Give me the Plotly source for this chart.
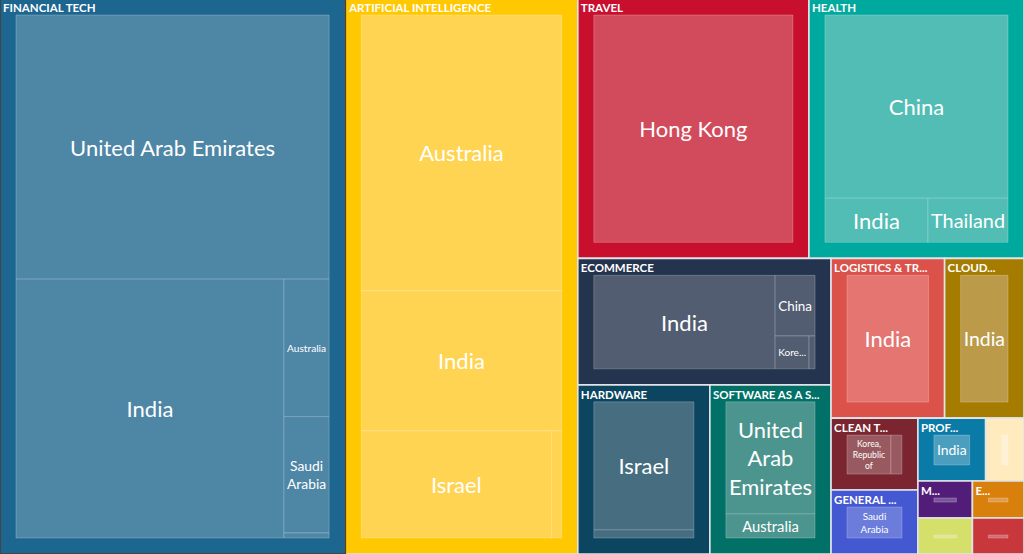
import plotly.graph_objects as go

sectors = ["FINANCIAL TECH", "ARTIFICIAL INTELLIGENCE", "TRAVEL", "HEALTH", "ECOMMERCE",
           "HARDWARE", "SOFTWARE AS A SERVICE", "LOGISTICS & TRANSPORTATION", "CLOUD COMPUTING",
           "CLEAN TECH", "GENERAL CONSUMER", "PROFESSIONAL SERVICES", "INTERNET",
           "MEDIA", "EDUCATION", "GAMING", "SECURITY"]
# header text as it shows in the boxes (truncated where it does not fit)
sector_header = ["FINANCIAL TECH", "ARTIFICIAL INTELLIGENCE", "TRAVEL", "HEALTH", "ECOMMERCE",
                 "HARDWARE", "SOFTWARE AS A S...", "LOGISTICS & TR...", "CLOUD...",
                 "CLEAN T...", "GENERAL ...", "PROF...", "",
                 "M...", "E...", "", ""]
sector_colors = ["#1d6690", "#ffc800", "#c8102e", "#00a99d", "#25344e",
                 "#0c4560", "#017167", "#da5249", "#a67c00",
                 "#7b2530", "#4458d2", "#0a7aa6", "#ffebbd",
                 "#511d78", "#d8800b", "#d4e06a", "#c8373c"]
leaf_colors = ["#4e86a6", "#ffd452", "#d24b5c", "#52bdb5", "#525d72",
               "#466e80", "#4c958e", "#e47570", "#bb9a4a",
               "#985a60", "#6b7cdb", "#4c9ebe", "#fff1d4",
               "#7a559a", "#e29d4c", "#dde794", "#d56a6e"]

leaf_sector = ["FINANCIAL TECH"] * 5 + ["ARTIFICIAL INTELLIGENCE"] * 4 + ["TRAVEL"] + ["HEALTH"] * 3 \
    + ["ECOMMERCE"] * 4 + ["HARDWARE"] * 2 + ["SOFTWARE AS A SERVICE"] * 2 \
    + ["LOGISTICS & TRANSPORTATION", "CLOUD COMPUTING"] + ["CLEAN TECH"] * 2 \
    + ["GENERAL CONSUMER", "PROFESSIONAL SERVICES", "INTERNET", "MEDIA", "EDUCATION", "GAMING", "SECURITY"]
leaf_country = ["United Arab Emirates", "India", "Australia", "Saudi Arabia", "Singapore",
                "Australia", "India", "Israel", "Singapore",
                "Hong Kong",
                "China", "India", "Thailand",
                "India", "China", "Korea, Republic of", "Japan",
                "Israel", "India",
                "United Arab Emirates", "Australia",
                "India", "India",
                "Korea, Republic of", "India",
                "Saudi Arabia", "India", "India", "India", "India", "India", "Israel"]
# label text as it shows in the boxes (wrapped / truncated, blank where too small)
leaf_text = ["United Arab Emirates", "India", "Australia", "Saudi<br>Arabia", "",
             "Australia", "India", "Israel", "",
             "Hong Kong",
             "China", "India", "Thailand",
             "India", "China", "Kore...", "",
             "Israel", "",
             "United<br>Arab<br>Emirates", "Australia",
             "India", "India",
             "Korea,<br>Republic<br>of", "",
             "Saudi<br>Arabia", "India", "", "", "", "", ""]
leaf_value = [96.0, 80.5, 7.2, 6.1, 0.26,
              67.6, 34.3, 24.9, 1.34,
              59.6,
              44.7, 6.06, 4.70,
              26.0, 3.71, 1.71, 0.30,
              20.8, 1.33,
              16.7, 3.6,
              17.97, 12.56,
              4.95, 1.24,
              5.5, 4.22, 2.39, 2.0, 1.89, 1.94, 1.84]

FONT = "Source Sans Pro, Lato, sans-serif"
pad = dict(t=17, l=16, r=16, b=16)
lift = 2  # sectors start slightly above the page top
tiling = dict(packing="binary", pad=0)

# sector totals, for the sector-only layer
sector_total = [sum(v for s2, v in zip(leaf_sector, leaf_value) if s2 == s) for s in sectors]

# full hierarchy: sectors (transparent) + countries
ids, labels, parents, values = [], [], [], []
fills, lines, txt, txtcol = [], [], [], []
for s in sectors:
    ids.append(s)
    labels.append(" ")
    parents.append("")
    values.append(0)
    fills.append("rgba(0,0,0,0)")
    lines.append("rgba(0,0,0,0)")
    txt.append("")
    txtcol.append("rgba(0,0,0,0)")
lmap = dict(zip(sectors, leaf_colors))
for s, k, t, v in zip(leaf_sector, leaf_country, leaf_text, leaf_value):
    ids.append(s + "/" + k)
    labels.append(k)
    parents.append(s)
    values.append(v)
    fills.append(lmap[s])
    lines.append("rgba(255,255,255,0.22)")
    txt.append(t)
    txtcol.append("white")

fig = go.Figure()
# layer 1: the sector boxes with their headers in the top-left corner
fig.add_trace(go.Treemap(
    ids=sectors, labels=sectors, parents=[""] * len(sectors), values=sector_total,
    tiling=tiling, pathbar=dict(visible=False),
    text=sector_header, texttemplate="<b>%{text}</b>", textposition="top left",
    textfont=dict(family=FONT, size=11.5, color="white"),
    marker=dict(colors=sector_colors, pad=pad, line=dict(width=1.6, color="rgba(225,228,232,1)")),
    hoverinfo="skip",
))
# layer 2: the countries inside each sector, labels centred
fig.add_trace(go.Treemap(
    ids=ids, labels=labels, parents=parents, values=values,
    branchvalues="remainder", tiling=tiling, pathbar=dict(visible=False),
    text=txt, texttemplate="%{text}", textposition="middle center",
    textfont=dict(family=FONT, size=22, color=txtcol),
    marker=dict(colors=fills, pad=pad, line=dict(width=1, color=lines)),
    hoverinfo="skip",
))
fig.update_layout(margin=dict(l=0, r=0, t=0, b=0),
                  width=1024 + pad["l"] + pad["r"], height=554 + lift + pad["t"] + pad["b"])

# hide the outer root padding: pull the plot to the page corner
post = ("document.documentElement.style.overflow='hidden';"
        "document.body.style.margin='0';document.body.style.overflow='hidden';"
        "var d=document.getElementById('{plot_id}');"
        "d.style.position='absolute';d.style.left='-%dpx';d.style.top='-%dpx';" % (pad["l"], pad["t"] + lift))
fig.write_html("out.html", post_script=post, config=dict(displayModeBar=False))
